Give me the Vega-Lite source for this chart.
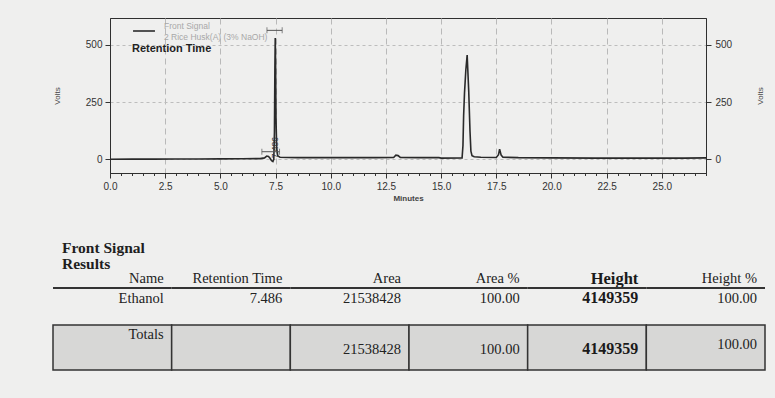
{
  "$schema": "https://vega.github.io/schema/vega-lite/v6.json",
  "background": "#efefee",
  "padding": {"left": 52, "top": 17, "right": 10, "bottom": 27},
  "config": {
    "view": {"stroke": null},
    "font": "Liberation Sans"
  },
  "datasets": {
    "signal": [
      {"minutes": 0, "volts": 0},
      {"minutes": 1, "volts": 0.5},
      {"minutes": 2, "volts": 0.5},
      {"minutes": 3, "volts": 1},
      {"minutes": 4, "volts": 1},
      {"minutes": 5, "volts": 1.5},
      {"minutes": 6, "volts": 2},
      {"minutes": 6.8, "volts": 3},
      {"minutes": 7.0, "volts": 6},
      {"minutes": 7.1, "volts": 14},
      {"minutes": 7.18, "volts": 12},
      {"minutes": 7.25, "volts": 4},
      {"minutes": 7.32, "volts": -6},
      {"minutes": 7.38, "volts": -10},
      {"minutes": 7.42, "volts": 0},
      {"minutes": 7.45, "volts": 120},
      {"minutes": 7.47, "volts": 400},
      {"minutes": 7.486, "volts": 530},
      {"minutes": 7.5, "volts": 430},
      {"minutes": 7.52, "volts": 180},
      {"minutes": 7.55, "volts": 50},
      {"minutes": 7.6, "volts": 15},
      {"minutes": 7.7, "volts": 9},
      {"minutes": 8.5, "volts": 7},
      {"minutes": 10, "volts": 7},
      {"minutes": 12, "volts": 7},
      {"minutes": 12.85, "volts": 8},
      {"minutes": 12.95, "volts": 18},
      {"minutes": 13.05, "volts": 16},
      {"minutes": 13.15, "volts": 8},
      {"minutes": 14, "volts": 7},
      {"minutes": 14.9, "volts": 7},
      {"minutes": 15.0, "volts": 5},
      {"minutes": 15.95, "volts": 6},
      {"minutes": 15.99, "volts": 60},
      {"minutes": 16.02, "volts": 190},
      {"minutes": 16.06, "volts": 290},
      {"minutes": 16.12, "volts": 390},
      {"minutes": 16.18, "volts": 455},
      {"minutes": 16.25, "volts": 300},
      {"minutes": 16.31, "volts": 120},
      {"minutes": 16.35, "volts": 35},
      {"minutes": 16.4, "volts": 16},
      {"minutes": 16.5, "volts": 11},
      {"minutes": 16.8, "volts": 9},
      {"minutes": 17.5, "volts": 8},
      {"minutes": 17.6, "volts": 20},
      {"minutes": 17.65, "volts": 44},
      {"minutes": 17.72, "volts": 18},
      {"minutes": 17.8, "volts": 9},
      {"minutes": 18.5, "volts": 7},
      {"minutes": 20, "volts": 6},
      {"minutes": 22, "volts": 5},
      {"minutes": 24, "volts": 5},
      {"minutes": 26, "volts": 5},
      {"minutes": 27, "volts": 6}
    ],
    "peaks": [
      {"minutes": 7.486, "volts": 4, "label": "7.486"}
    ],
    "integration": [
      {"minutes": 7.11, "end": 7.8, "volts": 563},
      {"minutes": 6.88, "end": 7.68, "volts": 33}
    ],
    "results": [
      {"column": "Name", "peak": "Ethanol", "total": "Totals"},
      {"column": "Retention Time", "peak": "7.486", "total": ""},
      {"column": "Area", "peak": "21538428", "total": "21538428"},
      {"column": "Area %", "peak": "100.00", "total": "100.00"},
      {"column": "Height", "peak": "4149359", "total": "4149359"},
      {"column": "Height %", "peak": "100.00", "total": "100.00"}
    ]
  },
  "columns": 1,
  "align": "none",
  "spacing": 37,
  "concat": [
    {
      "width": 596,
      "height": 155,
      "view": {"stroke": "#2f2f2f", "strokeWidth": 1},
      "layer": [
        {
          "data": {"name": "signal"},
          "mark": {"type": "line", "strokeWidth": 1.6, "interpolate": "linear"},
          "encoding": {
            "x": {
              "field": "minutes", "type": "quantitative",
              "scale": {"domain": [0, 27], "nice": false, "zero": false},
              "axis": {
                "title": "Minutes",
                "values": [0, 0.5, 1, 1.5, 2, 2.5, 3, 3.5, 4, 4.5, 5, 5.5, 6, 6.5, 7, 7.5, 8, 8.5, 9, 9.5, 10, 10.5, 11, 11.5, 12, 12.5, 13, 13.5, 14, 14.5, 15, 15.5, 16, 16.5, 17, 17.5, 18, 18.5, 19, 19.5, 20, 20.5, 21, 21.5, 22, 22.5, 23, 23.5, 24, 24.5, 25, 25.5, 26, 26.5, 27],
                "labelExpr": "datum.value % 2.5 === 0 && datum.value < 26 ? format(datum.value, '.1f') : ''",
                "labelOverlap": false,
                "labelFlush": false,
                "labelFontSize": 10,
                "labelColor": "#333",
                "labelPadding": 3,
                "tickSize": {"condition": {"test": "datum.value % 2.5 === 0", "value": 5}, "value": 2.5},
                "tickColor": "#333",
                "domainColor": "#2f2f2f",
                "grid": true,
                "gridColor": "#b9b9b9",
                "gridDash": [6, 4],
                "gridOpacity": {"condition": {"test": "datum.value % 2.5 === 0 && datum.value > 0", "value": 1}, "value": 0},
                "titleFontSize": 8,
                "titleFontWeight": "bold",
                "titleColor": "#444",
                "titlePadding": 3
              }
            },
            "y": {
              "field": "volts", "type": "quantitative",
              "scale": {"domain": [-60, 617], "nice": false, "zero": false},
              "axis": {
                "orient": "left",
                "title": "Volts",
                "values": [0, 250, 500],
                "labelFontSize": 10,
                "labelColor": "#333",
                "labelPadding": 3,
                "tickSize": 5,
                "tickColor": "#333",
                "domainColor": "#2f2f2f",
                "grid": true,
                "gridColor": "#bdbdbd",
                "gridDash": [3, 3],
                "titleFontSize": 8,
                "titleFontWeight": "normal",
                "titleColor": "#444",
                "titlePadding": 24
              }
            },
            "color": {
              "datum": "2 Rice Husk(A) (3% NaOH)",
              "type": "nominal",
              "scale": {"range": ["#2a2a2a"]},
              "legend": {
                "orient": "none",
                "legendX": 22,
                "legendY": 1,
                "padding": 0,
                "title": "Retention Time",
                "titleOrient": "bottom",
                "titleAnchor": "start",
                "titleFontSize": 11,
                "titleFontWeight": "bold",
                "titleColor": "#222",
                "titlePadding": 2,
                "symbolType": "stroke",
                "symbolSize": 480,
                "symbolStrokeWidth": 1.6,
                "labelExpr": "['Front Signal', datum.label]",
                "labelBaseline": "bottom",
                "labelLineHeight": 9,
                "labelFontSize": 8.5,
                "labelColor": "#a8a8a8",
                "labelOffset": 8,
                "labelLimit": 300
              }
            }
          }
        },
        {
          "data": {"name": "integration"},
          "mark": {"type": "rule", "color": "#555", "strokeWidth": 1},
          "encoding": {
            "x": {"field": "minutes", "type": "quantitative", "axis": null},
            "x2": {"field": "end"},
            "y": {
              "field": "volts", "type": "quantitative",
              "axis": {
                "orient": "right",
                "title": "Volts",
                "values": [0, 250, 500],
                "labelFontSize": 10,
                "labelColor": "#333",
                "labelPadding": 4,
                "tickSize": 5,
                "tickColor": "#333",
                "domainColor": "#2f2f2f",
                "grid": false,
                "titleAngle": -90,
                "titleFontSize": 8,
                "titleFontWeight": "normal",
                "titleColor": "#444",
                "titlePadding": 33
              }
            }
          }
        },
        {
          "data": {"name": "integration"},
          "mark": {"type": "tick", "orient": "vertical", "size": 6, "thickness": 1, "color": "#555"},
          "encoding": {
            "x": {"field": "minutes", "type": "quantitative", "axis": null},
            "y": {"field": "volts", "type": "quantitative", "axis": null}
          }
        },
        {
          "data": {"name": "integration"},
          "mark": {"type": "tick", "orient": "vertical", "size": 6, "thickness": 1, "color": "#555"},
          "encoding": {
            "x": {"field": "end", "type": "quantitative", "axis": null},
            "y": {"field": "volts", "type": "quantitative", "axis": null}
          }
        },
        {
          "data": {"name": "peaks"},
          "mark": {"type": "text", "angle": 270, "align": "left", "baseline": "middle", "fontSize": 8.5, "color": "#333"},
          "encoding": {
            "x": {"field": "minutes", "type": "quantitative", "axis": null},
            "y": {"field": "volts", "type": "quantitative", "axis": null},
            "text": {"field": "label"}
          }
        }
      ],
      "resolve": {"axis": {"x": "independent", "y": "independent"}}
    },
    {
      "spacing": 17,
      "vconcat": [
        {
          "width": 596,
          "height": 38,
          "title": {
            "text": ["Front Signal", "Results"],
            "anchor": "start",
            "frame": "group",
            "dx": -48,
            "offset": -3,
            "font": "Liberation Serif",
            "fontSize": 15.5,
            "fontWeight": "bold",
            "color": "#1e1e1e",
            "lineHeight": 16
          },
          "data": {"name": "results"},
          "layer": [
            {
              "transform": [{"filter": "datum.column !== 'Height'"}],
              "mark": {"type": "text", "align": "right", "baseline": "alphabetic", "dx": -8, "dy": -5, "font": "Liberation Serif", "fontSize": 14.5, "color": "#222"},
              "encoding": {
                "x": {"field": "column", "type": "nominal", "bandPosition": 1, "sort": null, "scale": {"domain": ["Name", "Retention Time", "Area", "Area %", "Height", "Height %"], "range": [-57, 655], "paddingInner": 0, "paddingOuter": 0}, "axis": null},
                "y": {"datum": "header", "type": "nominal", "bandPosition": 1, "scale": {"domain": ["header", "peak"], "paddingInner": 0, "paddingOuter": 0}, "axis": null},
                "text": {"field": "column"}
              }
            },
            {
              "transform": [{"filter": "datum.column === 'Height'"}],
              "mark": {"type": "text", "align": "right", "baseline": "alphabetic", "dx": -8, "dy": -4, "font": "Liberation Serif", "fontSize": 16.5, "fontWeight": "bold", "color": "#1a1a1a"},
              "encoding": {
                "x": {"field": "column", "type": "nominal", "bandPosition": 1, "axis": null},
                "y": {"datum": "header", "type": "nominal", "bandPosition": 1, "axis": null},
                "text": {"field": "column"}
              }
            },
            {
              "mark": {"type": "rule", "color": "#333", "strokeWidth": 2},
              "encoding": {
                "x": {"field": "column", "type": "nominal", "bandPosition": 0, "axis": null},
                "x2": {"field": "column", "bandPosition": 1},
                "y": {"datum": "peak", "type": "nominal", "bandPosition": 0, "axis": null}
              }
            },
            {
              "transform": [{"filter": "datum.column !== 'Height'"}],
              "mark": {"type": "text", "align": "right", "baseline": "alphabetic", "dx": -8, "dy": -4, "font": "Liberation Serif", "fontSize": 14.5, "color": "#222"},
              "encoding": {
                "x": {"field": "column", "type": "nominal", "bandPosition": 1, "axis": null},
                "y": {"datum": "peak", "type": "nominal", "bandPosition": 1, "axis": null},
                "text": {"field": "peak"}
              }
            },
            {
              "transform": [{"filter": "datum.column === 'Height'"}],
              "mark": {"type": "text", "align": "right", "baseline": "alphabetic", "dx": -8, "dy": -4, "font": "Liberation Serif", "fontSize": 16, "fontWeight": "bold", "color": "#1a1a1a"},
              "encoding": {
                "x": {"field": "column", "type": "nominal", "bandPosition": 1, "axis": null},
                "y": {"datum": "peak", "type": "nominal", "bandPosition": 1, "axis": null},
                "text": {"field": "peak"}
              }
            }
          ]
        },
        {
          "width": 596,
          "height": 45,
          "data": {"name": "results"},
          "layer": [
            {
              "mark": {"type": "rect", "fill": "#d7d7d6", "stroke": "#333", "strokeWidth": 1.5},
              "encoding": {
                "x": {"field": "column", "type": "nominal", "sort": null, "scale": {"domain": ["Name", "Retention Time", "Area", "Area %", "Height", "Height %"], "range": [-57, 655], "paddingInner": 0, "paddingOuter": 0}, "axis": null},
                "y": {"datum": "Totals", "type": "nominal", "scale": {"domain": ["Totals"], "paddingInner": 0, "paddingOuter": 0}, "axis": null}
              }
            },
            {
              "transform": [{"filter": "datum.column === 'Name'"}],
              "mark": {"type": "text", "align": "right", "baseline": "top", "dx": -8, "dy": 3, "font": "Liberation Serif", "fontSize": 14.5, "color": "#222"},
              "encoding": {
                "x": {"field": "column", "type": "nominal", "bandPosition": 1, "axis": null},
                "y": {"datum": "Totals", "type": "nominal", "bandPosition": 0, "axis": null},
                "text": {"field": "total"}
              }
            },
            {
              "transform": [{"filter": "datum.column === 'Area' || datum.column === 'Area %'"}],
              "mark": {"type": "text", "align": "right", "baseline": "alphabetic", "dx": -8, "dy": -16, "font": "Liberation Serif", "fontSize": 14.5, "color": "#222"},
              "encoding": {
                "x": {"field": "column", "type": "nominal", "bandPosition": 1, "axis": null},
                "y": {"datum": "Totals", "type": "nominal", "bandPosition": 1, "axis": null},
                "text": {"field": "total"}
              }
            },
            {
              "transform": [{"filter": "datum.column === 'Height'"}],
              "mark": {"type": "text", "align": "right", "baseline": "alphabetic", "dx": -8, "dy": -16, "font": "Liberation Serif", "fontSize": 16, "fontWeight": "bold", "color": "#1a1a1a"},
              "encoding": {
                "x": {"field": "column", "type": "nominal", "bandPosition": 1, "axis": null},
                "y": {"datum": "Totals", "type": "nominal", "bandPosition": 1, "axis": null},
                "text": {"field": "total"}
              }
            },
            {
              "transform": [{"filter": "datum.column === 'Height %'"}],
              "mark": {"type": "text", "align": "right", "baseline": "alphabetic", "dx": -8, "dy": -21, "font": "Liberation Serif", "fontSize": 14.5, "color": "#222"},
              "encoding": {
                "x": {"field": "column", "type": "nominal", "bandPosition": 1, "axis": null},
                "y": {"datum": "Totals", "type": "nominal", "bandPosition": 1, "axis": null},
                "text": {"field": "total"}
              }
            }
          ]
        }
      ]
    }
  ]
}
